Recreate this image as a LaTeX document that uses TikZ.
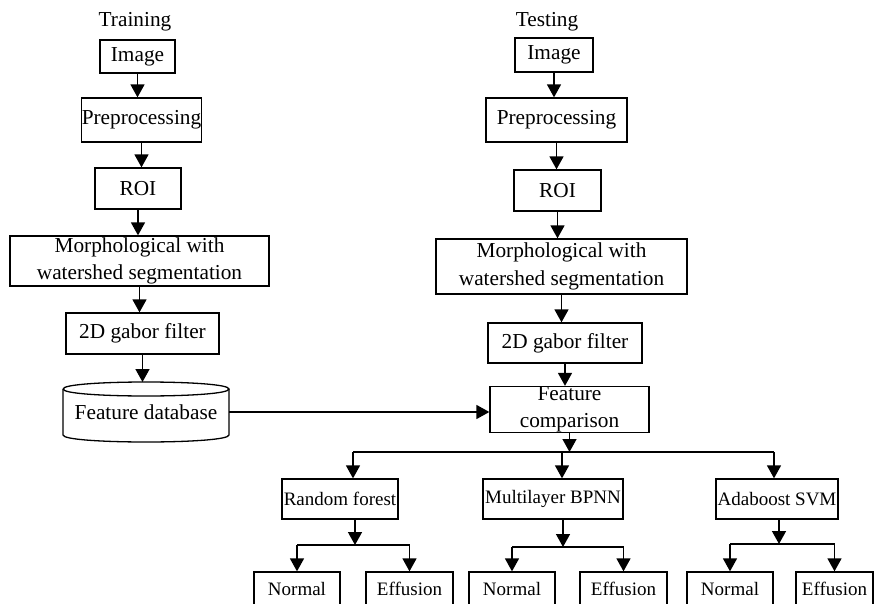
\documentclass[tikz,border=0pt]{standalone}
\usepackage{fontspec}
\setmainfont{Liberation Serif}
\usetikzlibrary{arrows.meta}
\begin{document}
\begin{tikzpicture}[x=1pt,y=-1pt,
  box/.style={draw, line width=1.3pt, inner sep=0pt, align=center, font=\fontsize{21.3}{27.5}\selectfont},
  sbox/.style={draw, line width=1.3pt, inner sep=0pt, align=center, font=\fontsize{19}{22}\selectfont},
  lbl/.style={inner sep=0pt, font=\fontsize{21.3}{24}\selectfont},
  arr/.style={line width=1.5pt, -{Triangle[width=14pt,length=13pt]}},
  ln/.style={line width=1.3pt}]
\useasboundingbox (0,0) rectangle (875,604);
\clip (0,0) rectangle (875,604);

% Training column
\node[lbl, anchor=base] (ttl) at (135,26.7) {Training};
\node[box, minimum width=75pt, minimum height=33pt] (ti) at (137.5,56.5) {Image};
\node[box, minimum width=117pt, minimum height=44pt] (tp) at (141.5,120) {Preprocessing};
\node[box, minimum width=86pt, minimum height=41pt] (tr) at (138,188.5) {ROI};
\node[box, minimum width=259pt, minimum height=50pt] (tm) at (139.5,261) {Morphological with\\watershed segmentation};
\node[box, minimum width=153pt, minimum height=41pt] (tg) at (142.5,333.5) {2D gabor filter};
\node[lbl, minimum width=166pt] (db) at (146,412) {Feature database};
\draw[ln] (63,389) .. controls (63,379.67) and (229,379.67) .. (229,389)
              .. controls (229,398.33) and (63,398.33) .. (63,389);
\draw[ln] (63,389) -- (63,435) .. controls (63,444.33) and (229,444.33) .. (229,435) -- (229,389);

\draw[arr] (ti.south) -- (ti.south |- tp.north);
\draw[arr] (tp.south) -- (tp.south |- tr.north);
\draw[arr] (tr.south) -- (tr.south |- tm.north);
\draw[arr] (tm.south) -- (tm.south |- tg.north);
\draw[arr] (tg.south) -- (tg.south |- 0,382);

% Testing column
\node[lbl, anchor=base] (stl) at (547,26.7) {Testing};
\node[box, minimum width=78pt, minimum height=34pt] (si) at (554,55) {Image};
\node[box, minimum width=141pt, minimum height=44pt] (sp) at (556.5,120) {Preprocessing};
\node[box, minimum width=87pt, minimum height=41pt] (sr) at (557.5,190.5) {ROI};
\node[box, minimum width=251pt, minimum height=55pt] (sm) at (561.5,266.5) {Morphological with\\watershed segmentation};
\node[box, minimum width=154pt, minimum height=40pt] (sg) at (565,343) {2D gabor filter};
\node[box, minimum width=159pt, minimum height=45pt] (fc) at (569.5,409.5) {Feature\\comparison};

\draw[arr] (si.south) -- (si.south |- sp.north);
\draw[arr] (sp.south) -- (sp.south |- sr.north);
\draw[arr] (sr.south) -- (sr.south |- sm.north);
\draw[arr] (sm.south) -- (sm.south |- sg.north);
\draw[arr] (sg.south) -- (sg.south |- fc.north);
\draw[arr] (db.east |- 0,412) -- (fc.west |- 0,412);

% classifiers
\node[sbox, minimum width=116pt, minimum height=40pt] (rf) at (340,499) {Random forest};
\node[sbox, minimum width=140pt, minimum height=40pt] (mb) at (553,499) {Multilayer BPNN};
\node[sbox, minimum width=122pt, minimum height=40pt] (ad) at (777,499) {Adaboost SVM};

\coordinate (b1) at (353,452);
\coordinate (b2) at (562,452);
\coordinate (b3) at (774,452);
\draw[arr] (fc.south) -- (fc.south |- b1);
\draw[ln] (b1) -- (b3);
\draw[arr] (b1) -- (b1 |- rf.north);
\draw[arr] (b2) -- (b2 |- mb.north);
\draw[arr] (b3) -- (b3 |- ad.north);

% outcomes
\node[sbox, minimum width=86pt, minimum height=34pt] (n1) at (297,589) {Normal};
\node[sbox, minimum width=87pt, minimum height=34pt] (e1) at (409.5,589) {Effusion};
\node[sbox, minimum width=86pt, minimum height=34pt] (n2) at (512,589) {Normal};
\node[sbox, minimum width=87pt, minimum height=34pt] (e2) at (623.5,589) {Effusion};
\node[sbox, minimum width=86pt, minimum height=34pt] (n3) at (730,589) {Normal};
\node[sbox, minimum width=77pt, minimum height=34pt] (e3) at (834.5,589) {Effusion};

\coordinate (s1) at (355,545);
\coordinate (s2) at (563,547);
\coordinate (s3) at (779,544);
\draw[arr] (s1 |- rf.south) -- (s1);
\draw[arr] (s2 |- mb.south) -- (s2);
\draw[arr] (s3 |- ad.south) -- (s3);
\draw[ln] (n1.north |- s1) -- (e1.north |- s1);
\draw[ln] (n2.north |- s2) -- (e2.north |- s2);
\draw[ln] (n3.north |- s3) -- (e3.north |- s3);
\draw[arr] (n1.north |- s1) -- (n1.north);
\draw[arr] (e1.north |- s1) -- (e1.north);
\draw[arr] (n2.north |- s2) -- (n2.north);
\draw[arr] (e2.north |- s2) -- (e2.north);
\draw[arr] (n3.north |- s3) -- (n3.north);
\draw[arr] (e3.north |- s3) -- (e3.north);
\end{tikzpicture}
\end{document}
